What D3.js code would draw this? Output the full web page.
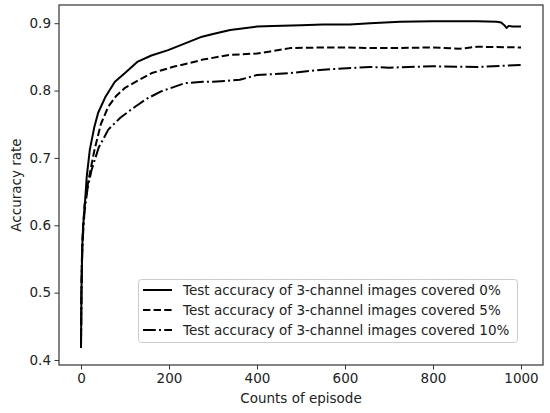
<!DOCTYPE html>
<html><head><meta charset="utf-8">
<script src="https://cdn.jsdelivr.net/npm/d3@7"></script>
<style>html,body{margin:0;padding:0;background:#fff;}svg{display:block;font-family:"DejaVu Sans",sans-serif;}</style>
</head><body><svg id="c" width="550" height="413"></svg>
<script>
const xTicks = [0, 200, 400, 600, 800, 1000];
const yTicks = [0.4, 0.5, 0.6, 0.7, 0.8, 0.9];
const seriesNames = ["Test accuracy of 3-channel images covered 0%", "Test accuracy of 3-channel images covered 5%", "Test accuracy of 3-channel images covered 10%"];
const x0 = [0,1,2,3,5,9,13,20,30,39,55,77,100,129,160,198,248,275,300,339,400,436,500,550,611,657,725,800,839,900,945,955,962,967,972,980,1000];
const y0 = [0.418,0.50,0.54,0.57,0.60,0.633,0.672,0.712,0.745,0.767,0.790,0.813,0.826,0.843,0.852,0.860,0.873,0.880,0.884,0.890,0.895,0.896,0.897,0.898,0.898,0.900,0.902,0.903,0.903,0.903,0.902,0.901,0.897,0.893,0.896,0.895,0.895];
const x5 = [0,1,2,4,8,17,30,45,62,80,100,130,161,214,248,277,339,400,430,475,550,600,657,700,800,860,900,1000];
const y5 = [0.42,0.50,0.55,0.59,0.63,0.667,0.71,0.75,0.776,0.792,0.804,0.815,0.826,0.836,0.841,0.846,0.853,0.855,0.858,0.863,0.864,0.864,0.863,0.863,0.864,0.862,0.865,0.864];
const x10 = [0,1,2,4,8,15,24,40,62,90,123,150,183,236,277,300,361,400,475,550,657,700,800,900,1000];
const y10 = [0.42,0.50,0.54,0.58,0.62,0.655,0.682,0.715,0.742,0.76,0.776,0.788,0.799,0.811,0.813,0.813,0.816,0.823,0.826,0.831,0.835,0.834,0.836,0.835,0.838];
const dashes = [null, "7.4,3.2", "12.8,3.2,2,3.2"];

const svg = d3.select("#c");
const L = 59, T = 5, R = 543, B = 365;
const FS = "13.5px";
const x = d3.scaleLinear().domain([-50, 1050]).range([L, R]);
const y = d3.scaleLinear().domain([0.3926, 0.927]).range([B, T]);

const xa = svg.append("g").attr("transform", `translate(0,${B})`)
  .call(d3.axisBottom(x).tickValues(xTicks).tickSize(4.5).tickPadding(4).tickFormat(d3.format("d")));
const ya = svg.append("g").attr("transform", `translate(${L},0)`)
  .call(d3.axisLeft(y).tickValues(yTicks).tickSize(4.5).tickPadding(3.5).tickFormat(d3.format(".1f")));
[xa, ya].forEach(g => {
  g.select(".domain").remove();
  g.selectAll("line").attr("stroke", "#333").attr("stroke-width", 1);
  g.selectAll("text").attr("fill", "#222").style("font-size", FS).style("font-family", "DejaVu Sans");
});

const line = d3.line().x(d => x(d[0])).y(d => y(d[1]));
const data = [d3.zip(x0, y0), d3.zip(x5, y5), d3.zip(x10, y10)];
data.forEach((d, i) => {
  const p = svg.append("path").datum(d).attr("d", line).attr("fill", "none")
    .attr("stroke", "#000").attr("stroke-width", 2).attr("stroke-linejoin", "round");
  if (dashes[i]) p.attr("stroke-dasharray", dashes[i]);
});

svg.append("rect").attr("x", L).attr("y", T).attr("width", R - L).attr("height", B - T)
  .attr("fill", "none").attr("stroke", "#333").attr("stroke-width", 1.2);

svg.append("text").attr("x", (L + R) / 2).attr("y", 403).attr("text-anchor", "middle")
  .style("font-size", FS).attr("fill", "#222").text("Counts of episode");
svg.append("text").attr("transform", `translate(16,${(T + B) / 2}) rotate(-90)`).attr("text-anchor", "middle")
  .attr("dy", "0.35em").style("font-size", FS).attr("fill", "#222").text("Accuracy rate");

const lg = svg.append("g");
lg.append("rect").attr("x", 138.5).attr("y", 279.5).attr("width", 379).attr("height", 63).attr("rx", 3)
  .attr("fill", "#fff").attr("fill-opacity", 0.8).attr("stroke", "#ccc").attr("stroke-width", 1);
seriesNames.forEach((n, i) => {
  const yy = 290 + i * 20;
  const l = lg.append("line").attr("x1", 143).attr("x2", 172).attr("y1", yy).attr("y2", yy)
    .attr("stroke", "#000").attr("stroke-width", 2);
  if (dashes[i]) l.attr("stroke-dasharray", dashes[i]);
  lg.append("text").attr("x", 183).attr("y", yy).attr("dy", "0.35em")
    .style("font-size", FS).attr("fill", "#222").text(n);
});
</script></body></html>
